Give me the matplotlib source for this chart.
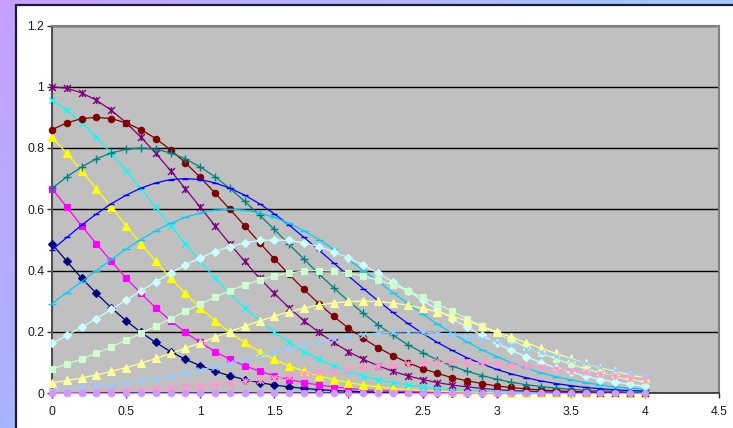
from __future__ import annotations

import matplotlib

matplotlib.use("Agg")
import matplotlib.pyplot as plt
import numpy as np
from matplotlib.patches import Rectangle
from matplotlib.path import Path

X_VALUES = [
    0.0, 0.1, 0.2, 0.3, 0.4, 0.5, 0.6, 0.7, 0.8, 0.9,
    1.0, 1.1, 1.2, 1.3, 1.4, 1.5, 1.6, 1.7, 1.8, 1.9,
    2.0, 2.1, 2.2, 2.3, 2.4, 2.5, 2.6, 2.7, 2.8, 2.9,
    3.0, 3.1, 3.2, 3.3, 3.4, 3.5, 3.6, 3.7, 3.8, 3.9, 4.0,
]

NAVY = [
    0.487, 0.430, 0.375, 0.325, 0.278, 0.236, 0.198, 0.165, 0.135, 0.110,
    0.089, 0.071, 0.056, 0.044, 0.034, 0.026, 0.020, 0.015, 0.011, 0.008,
    0.006, 0.004, 0.003, 0.002, 0.002, 0.001, 0.001, 0.0, 0.0, 0.0,
    0.0, 0.0, 0.0, 0.0, 0.0, 0.0, 0.0, 0.0, 0.0, 0.0, 0.0,
]
MAGENTA = [
    0.667, 0.607, 0.546, 0.487, 0.430, 0.375, 0.325, 0.278, 0.236, 0.198,
    0.165, 0.135, 0.110, 0.089, 0.071, 0.056, 0.044, 0.034, 0.026, 0.020,
    0.015, 0.011, 0.008, 0.006, 0.004, 0.003, 0.002, 0.002, 0.001, 0.001,
    0.0, 0.0, 0.0, 0.0, 0.0, 0.0, 0.0, 0.0, 0.0, 0.0, 0.0,
]
YELLOW = [
    0.835, 0.783, 0.726, 0.667, 0.607, 0.546, 0.487, 0.430, 0.375, 0.325,
    0.278, 0.236, 0.198, 0.165, 0.135, 0.110, 0.089, 0.071, 0.056, 0.044,
    0.034, 0.026, 0.020, 0.015, 0.011, 0.008, 0.006, 0.004, 0.003, 0.002,
    0.002, 0.001, 0.001, 0.0, 0.0, 0.0, 0.0, 0.0, 0.0, 0.0, 0.0,
]
CYAN = [
    0.956, 0.923, 0.883, 0.835, 0.783, 0.726, 0.667, 0.607, 0.546, 0.487,
    0.430, 0.375, 0.325, 0.278, 0.236, 0.198, 0.165, 0.135, 0.110, 0.089,
    0.071, 0.056, 0.044, 0.034, 0.026, 0.020, 0.015, 0.011, 0.008, 0.006,
    0.004, 0.003, 0.002, 0.002, 0.001, 0.001, 0.0, 0.0, 0.0, 0.0, 0.0,
]
PURPLE = [
    1.000, 0.995, 0.980, 0.956, 0.923, 0.883, 0.835, 0.783, 0.726, 0.667,
    0.607, 0.546, 0.487, 0.430, 0.375, 0.325, 0.278, 0.236, 0.198, 0.165,
    0.135, 0.110, 0.089, 0.071, 0.056, 0.044, 0.034, 0.026, 0.020, 0.015,
    0.011, 0.008, 0.006, 0.004, 0.003, 0.002, 0.002, 0.001, 0.001, 0.0, 0.0,
]
DARK_RED = [
    0.860, 0.882, 0.896, 0.900, 0.896, 0.882, 0.860, 0.831, 0.794, 0.752,
    0.704, 0.653, 0.600, 0.546, 0.491, 0.438, 0.387, 0.338, 0.292, 0.250,
    0.212, 0.178, 0.148, 0.122, 0.099, 0.080, 0.064, 0.050, 0.040, 0.031,
    0.023, 0.018, 0.013, 0.010, 0.007, 0.005, 0.004, 0.003, 0.002, 0.001, 0.001,
]
TEAL = [
    0.668, 0.706, 0.738, 0.765, 0.784, 0.796, 0.800, 0.796, 0.784, 0.765,
    0.738, 0.706, 0.668, 0.626, 0.581, 0.534, 0.485, 0.437, 0.389, 0.344,
    0.300, 0.260, 0.222, 0.189, 0.158, 0.132, 0.108, 0.088, 0.071, 0.057,
    0.045, 0.035, 0.027, 0.021, 0.016, 0.012, 0.009, 0.007, 0.005, 0.003, 0.002,
]
BLUE = [
    0.467, 0.508, 0.548, 0.585, 0.618, 0.646, 0.669, 0.686, 0.697, 0.700,
    0.697, 0.686, 0.669, 0.646, 0.618, 0.585, 0.548, 0.508, 0.467, 0.425,
    0.382, 0.341, 0.301, 0.263, 0.227, 0.195, 0.165, 0.139, 0.115, 0.095,
    0.077, 0.062, 0.050, 0.039, 0.031, 0.024, 0.018, 0.014, 0.010, 0.008, 0.006,
]
SKY_BLUE = [
    0.292, 0.328, 0.364, 0.400, 0.436, 0.470, 0.501, 0.530, 0.554, 0.574,
    0.588, 0.597, 0.600, 0.597, 0.588, 0.574, 0.554, 0.530, 0.501, 0.470,
    0.436, 0.400, 0.364, 0.328, 0.292, 0.258, 0.225, 0.195, 0.167, 0.141,
    0.119, 0.099, 0.081, 0.066, 0.053, 0.043, 0.034, 0.026, 0.020, 0.016, 0.012,
]
LIGHT_TURQUOISE = [
    0.162, 0.188, 0.215, 0.243, 0.273, 0.303, 0.334, 0.363, 0.391, 0.418,
    0.441, 0.462, 0.478, 0.490, 0.498, 0.500, 0.498, 0.490, 0.478, 0.462,
    0.441, 0.418, 0.391, 0.363, 0.334, 0.303, 0.273, 0.243, 0.215, 0.188,
    0.162, 0.139, 0.118, 0.099, 0.082, 0.068, 0.055, 0.044, 0.036, 0.028, 0.022,
]
LIGHT_GREEN = [
    0.079, 0.094, 0.111, 0.130, 0.150, 0.172, 0.195, 0.218, 0.243, 0.267,
    0.290, 0.313, 0.334, 0.353, 0.369, 0.382, 0.392, 0.398, 0.400, 0.398,
    0.392, 0.382, 0.369, 0.353, 0.334, 0.313, 0.290, 0.267, 0.243, 0.218,
    0.195, 0.172, 0.150, 0.130, 0.111, 0.094, 0.079, 0.066, 0.054, 0.044, 0.036,
]
LIGHT_YELLOW = [
    0.033, 0.041, 0.049, 0.059, 0.071, 0.083, 0.097, 0.113, 0.129, 0.146,
    0.164, 0.182, 0.200, 0.218, 0.235, 0.251, 0.265, 0.277, 0.287, 0.294,
    0.299, 0.300, 0.299, 0.294, 0.287, 0.277, 0.265, 0.251, 0.235, 0.218,
    0.200, 0.182, 0.164, 0.146, 0.129, 0.113, 0.097, 0.083, 0.071, 0.059, 0.049,
]
PALE_BLUE = [
    0.011, 0.014, 0.018, 0.022, 0.027, 0.033, 0.040, 0.047, 0.056, 0.065,
    0.075, 0.086, 0.097, 0.109, 0.121, 0.133, 0.145, 0.157, 0.167, 0.177,
    0.185, 0.191, 0.196, 0.199, 0.200, 0.199, 0.196, 0.191, 0.185, 0.177,
    0.167, 0.157, 0.145, 0.133, 0.121, 0.109, 0.097, 0.086, 0.075, 0.065, 0.056,
]
ROSE = [
    0.003, 0.003, 0.004, 0.006, 0.007, 0.009, 0.011, 0.014, 0.016, 0.020,
    0.024, 0.028, 0.032, 0.038, 0.043, 0.049, 0.055, 0.061, 0.067, 0.073,
    0.078, 0.084, 0.088, 0.092, 0.096, 0.098, 0.100, 0.100, 0.100, 0.098,
    0.096, 0.092, 0.088, 0.084, 0.078, 0.073, 0.067, 0.061, 0.055, 0.049, 0.043,
]
LAVENDER = [
    0.0, 0.0, 0.0, 0.0, 0.0, 0.0, 0.0, 0.0, 0.0, 0.0,
    0.0, 0.0, 0.0, 0.0, 0.0, 0.0, 0.0, 0.0, 0.0, 0.0,
    0.0, 0.0, 0.0, 0.0, 0.0, 0.0, 0.0, 0.0, 0.0, 0.0,
    0.0, 0.0, 0.0, 0.0, 0.0, 0.0, 0.0, 0.0, 0.0, 0.0, 0.0,
]

Y_TICKS = [0, 0.2, 0.4, 0.6, 0.8, 1.0, 1.2]
Y_TICK_LABELS = ["0", "0.2", "0.4", "0.6", "0.8", "1", "1.2"]
X_TICKS = [0, 0.5, 1.0, 1.5, 2.0, 2.5, 3.0, 3.5, 4.0, 4.5]
X_TICK_LABELS = ["0", "0.5", "1", "1.5", "2", "2.5", "3", "3.5", "4", "4.5"]

# Excel-style star: an X with a vertical bar through it
STAR = Path(
    [(-1, -1), (1, 1), (-1, 1), (1, -1), (0, -1), (0, 1)],
    [Path.MOVETO, Path.LINETO, Path.MOVETO, Path.LINETO, Path.MOVETO, Path.LINETO],
)

# (values, colour, marker, marker size)
SERIES = [
    (NAVY, "#000080", "D", 4.0),
    (MAGENTA, "#FF00FF", "s", 4.4),
    (YELLOW, "#FFFF00", "^", 5.6),
    (CYAN, "#00FFFF", "x", 5.0),
    (PURPLE, "#800080", STAR, 5.0),
    (DARK_RED, "#800000", "o", 4.6),
    (TEAL, "#008080", "+", 5.5),
    (BLUE, "#0000FF", "_", 4.0),
    (SKY_BLUE, "#00CCFF", "_", 6.0),
    (LIGHT_TURQUOISE, "#CCFFFF", "D", 4.0),
    (LIGHT_GREEN, "#CCFFCC", "s", 4.4),
    (LIGHT_YELLOW, "#FFFF99", "^", 5.6),
    (PALE_BLUE, "#99CCFF", "x", 5.0),
    (ROSE, "#FF99CC", STAR, 5.0),
    (LAVENDER, "#CC99FF", "o", 4.6),
]

W, H = 733, 428


def draw_background(fig: plt.Figure) -> None:
    bg = fig.add_axes([0, 0, 1, 1])
    bg.set_axis_off()
    top_left = np.array([200, 160, 255]) / 255
    top_right = np.array([160, 204, 255]) / 255
    bottom_left = np.array([168, 180, 255]) / 255
    u = np.linspace(0, 1, 200)[None, :, None]
    v = np.linspace(0, 1, 120)[:, None, None]
    grad = top_left + (top_right - top_left) * u + (bottom_left - top_left) * v
    bg.imshow(np.clip(grad, 0, 1), extent=[0, 1, 0, 1], aspect="auto", origin="upper")
    bg.set_xlim(0, 1)
    bg.set_ylim(0, 1)
    bg.add_patch(
        Rectangle(
            (15.5 / W, -0.1),
            1.0,
            1.1 - 5.5 / H,
            facecolor="white",
            edgecolor="#1c1c38",
            linewidth=1.6,
        )
    )


def draw_chart(fig: plt.Figure) -> None:
    left, right, top, bottom = 52, 719, 25.5, 393
    ax = fig.add_axes([left / W, (H - bottom) / H, (right - left) / W, (bottom - top) / H])
    ax.set_facecolor("#C0C0C0")

    for values, color, marker, size in SERIES:
        filled = marker in ("D", "s", "^", "o")
        ax.plot(
            X_VALUES,
            values,
            color=color,
            linewidth=0.9,
            marker=marker,
            markersize=size,
            markerfacecolor=color if filled else "none",
            markeredgecolor=color,
            markeredgewidth=0.8 if filled else 1.0,
            clip_on=False,
            zorder=3,
        )

    ax.set_xlim(0, 4.5)
    ax.set_ylim(0, 1.2)
    ax.set_xticks(X_TICKS)
    ax.set_xticklabels(X_TICK_LABELS)
    ax.set_yticks(Y_TICKS)
    ax.set_yticklabels(Y_TICK_LABELS)
    ax.yaxis.grid(True, color="black", linewidth=1.0, zorder=1)
    ax.set_axisbelow(True)

    for side in ("top", "right"):
        ax.spines[side].set_color("#808080")
        ax.spines[side].set_linewidth(1.5)
    ax.spines["left"].set_color("#505050")
    ax.spines["left"].set_linewidth(1.5)
    ax.spines["bottom"].set_color("#303030")
    ax.spines["bottom"].set_linewidth(1.2)

    ax.tick_params(
        axis="both",
        direction="out",
        length=3.5,
        width=1.0,
        color="#303030",
        labelsize=8.8,
        labelcolor="#1a1a1a",
    )
    ax.tick_params(axis="x", pad=6)
    ax.tick_params(axis="y", pad=2)


def main() -> None:
    plt.rcParams["font.family"] = ["Liberation Sans", "DejaVu Sans"]
    fig = plt.figure(figsize=(W / 100, H / 100), dpi=100)
    draw_background(fig)
    draw_chart(fig)
    fig.savefig("out.png", dpi=100)
    plt.close(fig)


if __name__ == "__main__":
    main()
